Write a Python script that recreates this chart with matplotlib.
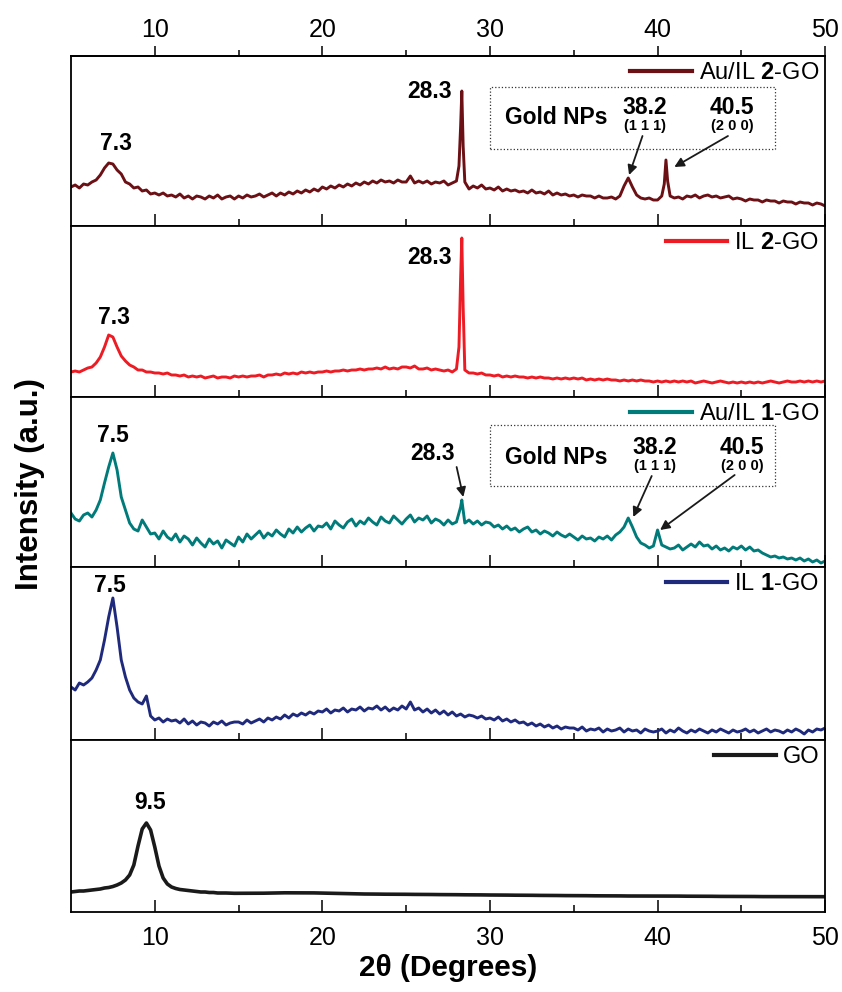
import numpy as np
import matplotlib.pyplot as plt
from matplotlib.patches import Rectangle

plt.rcParams['font.family'] = ['Liberation Sans', 'DejaVu Sans']
plt.rcParams['mathtext.fontset'] = 'custom'
plt.rcParams['mathtext.rm'] = 'Liberation Sans'
plt.rcParams['mathtext.bf'] = 'Liberation Sans:bold'

# сетка 2θ (шаг 0.25)
two_theta = np.arange(5, 50.001, 0.25)

# Au/IL 2-GO
au2_y = [39, 41, 38, 42, 41, 44, 46, 51, 58, 63, 62, 56, 52, 44, 42, 38, 39, 35, 36, 32,
         33, 31, 33, 30, 31, 29, 32, 28, 30, 27, 30, 29, 27, 30, 28, 31, 27, 29, 30, 27,
         30, 28, 31, 29, 30, 32, 29, 31, 33, 30, 33, 31, 34, 32, 35, 33, 36, 34, 37, 35,
         39, 37, 40, 38, 41, 39, 42, 40, 43, 41, 44, 42, 45, 43, 46, 44, 45, 43, 46, 44,
         44, 50, 43, 45, 43, 45, 42, 44, 43, 45, 41, 43, 45, 100, 44, 37, 40, 38, 41, 37,
         38, 36, 39, 35, 37, 35, 36, 34, 35, 33, 36, 33, 34, 32, 35, 31, 33, 31, 32, 30,
         31, 29, 31, 30, 30, 28, 30, 28, 28, 29, 27, 30, 40, 48, 39, 31, 28, 27, 28, 26,
         26, 30, 66, 30, 28, 29, 27, 30, 29, 31, 28, 30, 31, 29, 30, 28, 29, 30, 27, 28,
         27, 25, 27, 26, 26, 24, 26, 25, 25, 23, 25, 24, 24, 22, 24, 23, 23, 21, 23, 22,
         20]
au2_peak_x = [28.15, 28.32, 28.4, 40.4, 40.6]
au2_peak_y = [60, 135, 80, 42, 45]

# IL 2-GO
il2_y = [25, 26, 25, 27, 29, 30, 34, 40, 50, 62, 60, 50, 41, 36, 32, 30, 27, 27, 25, 25,
         24, 24, 23, 24, 22, 22, 21, 22, 20, 21, 20, 21, 19, 20, 21, 19, 20, 20, 19, 21,
         20, 21, 20, 21, 21, 22, 20, 22, 22, 23, 22, 24, 23, 24, 23, 25, 24, 25, 24, 25,
         25, 26, 25, 26, 26, 27, 26, 27, 27, 28, 27, 28, 28, 29, 28, 30, 28, 29, 28, 30,
         30, 29, 31, 28, 28, 29, 27, 28, 27, 26, 27, 25, 28, 120, 27, 24, 24, 23, 24, 22,
         22, 21, 22, 20, 21, 20, 21, 20, 20, 19, 20, 19, 20, 19, 19, 18, 19, 18, 19, 18,
         19, 18, 19, 17, 18, 17, 18, 17, 18, 17, 17, 16, 17, 16, 17, 16, 17, 16, 16, 15,
         16, 15, 16, 15, 16, 15, 16, 15, 16, 14, 15, 16, 15, 14, 15, 16, 15, 14, 15, 14,
         15, 14, 15, 14, 15, 14, 15, 16, 15, 14, 15, 16, 15, 15, 16, 15, 16, 15, 16, 15,
         16]
il2_peak_x = [28.15, 28.32, 28.4]
il2_peak_y = [50, 159, 90]

# Au/IL 1-GO
au1_y = [54, 48, 46, 52, 54, 50, 57, 67, 84, 100, 114, 97, 70, 57, 44, 38, 36, 47, 40, 33,
         34, 28, 36, 30, 27, 33, 25, 31, 28, 22, 29, 24, 20, 28, 23, 26, 19, 27, 24, 21,
         30, 25, 33, 28, 32, 36, 29, 34, 31, 37, 33, 30, 38, 34, 40, 35, 39, 42, 36, 41,
         40, 44, 38, 46, 42, 39, 45, 48, 41, 46, 43, 49, 45, 42, 50, 46, 44, 51, 47, 43,
         48, 52, 45, 49, 47, 51, 44, 48, 46, 42, 47, 43, 45, 60, 44, 47, 43, 46, 42, 45,
         44, 40, 42, 38, 41, 37, 39, 35, 38, 40, 35, 37, 33, 36, 34, 31, 35, 32, 30, 33,
         30, 27, 31, 28, 29, 26, 30, 28, 31, 27, 32, 35, 40, 49, 40, 30, 24, 22, 19, 21,
         37, 22, 20, 18, 19, 22, 17, 20, 23, 20, 25, 21, 22, 18, 21, 17, 19, 16, 20, 18,
         21, 17, 20, 16, 17, 14, 12, 10, 11, 9, 10, 8, 9, 7, 9, 6, 8, 5, 7, 4,
         6]
au1_peak_x = [28.32]
au1_peak_y = [67]

# IL 1-GO
il1_y = [53, 50, 57, 55, 58, 62, 70, 80, 100, 123, 142, 113, 80, 63, 50, 42, 38, 36, 44, 24,
         20, 22, 18, 21, 19, 20, 17, 21, 16, 19, 15, 18, 17, 14, 18, 16, 19, 15, 17, 18,
         18, 16, 20, 17, 19, 21, 18, 22, 20, 23, 21, 25, 22, 26, 24, 27, 25, 28, 26, 29,
         28, 31, 27, 30, 29, 32, 28, 31, 30, 33, 29, 32, 31, 34, 30, 33, 29, 32, 30, 34,
         31, 38, 30, 32, 28, 31, 27, 30, 26, 29, 25, 28, 24, 26, 23, 25, 24, 22, 24, 21,
         22, 20, 23, 19, 21, 18, 20, 17, 18, 15, 17, 14, 16, 13, 15, 12, 14, 11, 13, 12,
         12, 10, 13, 9, 11, 10, 12, 8, 11, 9, 10, 12, 8, 11, 9, 10, 7, 11, 9, 8,
         9, 11, 7, 10, 8, 12, 9, 7, 10, 8, 11, 9, 7, 10, 8, 11, 9, 7, 10, 8,
         9, 11, 8, 10, 7, 9, 11, 8, 10, 9, 7, 10, 8, 11, 9, 6, 10, 8, 11, 10,
         12]

# GO
go_y = [20, 20.5, 21, 21, 21.5, 22, 22.5, 23, 24, 24.5, 25.5, 27, 29, 32, 37, 47, 66, 83, 89, 82,
        65, 46, 34, 28, 25, 23.5, 22.5, 22, 21.5, 21, 20.5, 20, 20, 19.5, 19.5, 19, 19, 19, 18.8, 18.7,
        18.7, 18.7, 18.7, 18.7, 18.7, 18.8, 18.8, 18.9, 19, 19, 19.1, 19.2, 19.2, 19.3, 19.3, 19.3, 19.2, 19.2, 19.1, 19,
        19, 18.9, 18.8, 18.7, 18.6, 18.5, 18.4, 18.3, 18.2, 18.1, 18, 18, 17.9, 17.9, 17.8, 17.8, 17.8, 17.7, 17.7, 17.7,
        17.7, 17.6, 17.6, 17.6, 17.5, 17.5, 17.5, 17.4, 17.4, 17.4, 17.3, 17.3, 17.3, 17.2, 17.2, 17.2, 17.1, 17.1, 17.1, 17,
        17, 17, 16.9, 16.9, 16.9, 16.8, 16.8, 16.8, 16.7, 16.7, 16.7, 16.6, 16.6, 16.6, 16.5, 16.5, 16.5, 16.4, 16.4, 16.4,
        16.3, 16.3, 16.3, 16.3, 16.2, 16.2, 16.2, 16.2, 16.1, 16.1, 16.1, 16.1, 16, 16, 16, 16, 16, 16, 16, 16,
        16, 16, 15.9, 15.9, 15.9, 15.9, 15.8, 15.8, 15.8, 15.8, 15.7, 15.7, 15.7, 15.7, 15.6, 15.6, 15.6, 15.6, 15.5, 15.5,
        15.5, 15.5, 15.5, 15.5, 15.4, 15.4, 15.4, 15.4, 15.4, 15.4, 15.3, 15.3, 15.3, 15.3, 15.3, 15.3, 15.3, 15.3, 15.3, 15.3,
        15.3]


def merge(y, px=(), py=()):
    x = np.concatenate([two_theta, px])
    yy = np.concatenate([np.asarray(y, float), py])
    order = np.argsort(x, kind='stable')
    return x[order], yy[order]


series = [
    (merge(au2_y, au2_peak_x, au2_peak_y), '#6b1014', r'Au/IL $\mathbf{2}$-GO', 2.1),
    (merge(il2_y, il2_peak_x, il2_peak_y), '#ed1c24', r'IL $\mathbf{2}$-GO', 2.1),
    (merge(au1_y, au1_peak_x, au1_peak_y), '#007b7a', r'Au/IL $\mathbf{1}$-GO', 2.1),
    (merge(il1_y), '#1f2a7c', r'IL $\mathbf{1}$-GO', 2.1),
    (merge(go_y), '#1a1a1a', 'GO', 2.6),
]
heights = [170, 171, 170, 173, 172]

fig = plt.figure(figsize=(8.42, 9.92), dpi=100)
gs = fig.add_gridspec(5, 1, left=0.0843, right=0.980, bottom=1 - 912 / 992, top=1 - 56 / 992,
                      hspace=0, height_ratios=heights)
axes = []
for i in range(5):
    ax = fig.add_subplot(gs[i], sharex=axes[0] if axes else None)
    axes.append(ax)
    (x, y), color, label, lw = series[i]
    ax.plot(x, y, color=color, lw=lw, label=label)
    ax.set_ylim(0, heights[i])
    ax.set_xlim(5, 50)
    ax.set_yticks([])
    ax.set_xticks([10, 20, 30, 40, 50])
    ax.set_xticks([15, 25, 35, 45], minor=True)
    ax.tick_params(axis='x', which='major', direction='in', length=8.5, width=1.1, labelsize=18, pad=10)
    ax.tick_params(axis='x', which='minor', direction='in', length=5, width=1.1)
    if i < 4:
        ax.tick_params(axis='x', labelbottom=False)
    for sp in ax.spines.values():
        sp.set_linewidth(1.3)
    leg = ax.legend(loc='upper right', frameon=False, fontsize=17, handlelength=2.6,
                    handletextpad=0.3, borderaxespad=0.05, borderpad=0.2)
    for l in leg.get_lines():
        l.set_linewidth(3.0)

# верхняя шкала
sec = axes[0].secondary_xaxis('top')
sec.set_xticks([10, 20, 30, 40, 50])
sec.set_xticks([15, 25, 35, 45], minor=True)
sec.tick_params(which='major', direction='out', length=7, width=1.1, labelsize=18, pad=3)
sec.tick_params(which='minor', direction='out', length=4, width=1.1)
sec.spines['top'].set_linewidth(1.3)

bold = dict(fontsize=16.5, fontweight='bold', ha='center', va='center')
small = dict(fontsize=10.5, fontweight='bold', ha='center', va='center')
arrow = dict(arrowstyle='-|>', color='#1a1a1a', lw=1.3, mutation_scale=14, shrinkA=0, shrinkB=0)

# панель 1
ax = axes[0]
ax.text(7.7, 82, '7.3', **bold)
ax.text(27.75, 134, '28.3', fontsize=16.5, fontweight='bold', ha='right', va='center')
ax.add_patch(Rectangle((30.0, 77), 17.0, 62, fill=False, ls=':', lw=0.9, ec='#333333'))
ax.text(33.95, 108, 'Gold NPs', **bold)
ax.text(39.25, 119, '38.2', **bold)
ax.text(39.25, 100, '(1 1 1)', **small)
ax.text(44.45, 119, '40.5', **bold)
ax.text(44.45, 100, '(2 0 0)', **small)
ax.annotate('', xy=(38.3, 51), xytext=(39.1, 90), arrowprops=arrow)
ax.annotate('', xy=(41.0, 59), xytext=(44.2, 90), arrowprops=arrow)

# панель 2
ax = axes[1]
ax.text(7.54, 79, '7.3', **bold)
ax.text(27.75, 140, '28.3', fontsize=16.5, fontweight='bold', ha='right', va='center')

# панель 3
ax = axes[2]
ax.text(7.47, 132, '7.5', **bold)
ax.text(26.6, 114, '28.3', **bold)
ax.annotate('', xy=(28.41, 70), xytext=(28.01, 100), arrowprops=arrow)
ax.add_patch(Rectangle((30.0, 81), 17.0, 61, fill=False, ls=':', lw=0.9, ec='#333333'))
ax.text(33.95, 110, 'Gold NPs', **bold)
ax.text(39.82, 119.5, '38.2', **bold)
ax.text(39.82, 101, '(1 1 1)', **small)
ax.text(45.05, 119.5, '40.5', **bold)
ax.text(45.05, 101, '(2 0 0)', **small)
ax.annotate('', xy=(38.55, 50), xytext=(39.65, 91), arrowprops=arrow)
ax.annotate('', xy=(40.15, 37), xytext=(44.6, 92), arrowprops=arrow)

# панель 4
axes[3].text(7.3, 155, '7.5', **bold)

# панель 5
axes[4].text(9.7, 109, '9.5', **bold)

axes[4].set_xlabel('2θ (Degrees)', fontsize=21.5, fontweight='bold', labelpad=3)
fig.text(0.036, 1 - 484 / 992, 'Intensity (a.u.)', rotation=90, fontsize=22.5,
         fontweight='bold', ha='center', va='center')

fig.savefig('out.png', dpi=100)
